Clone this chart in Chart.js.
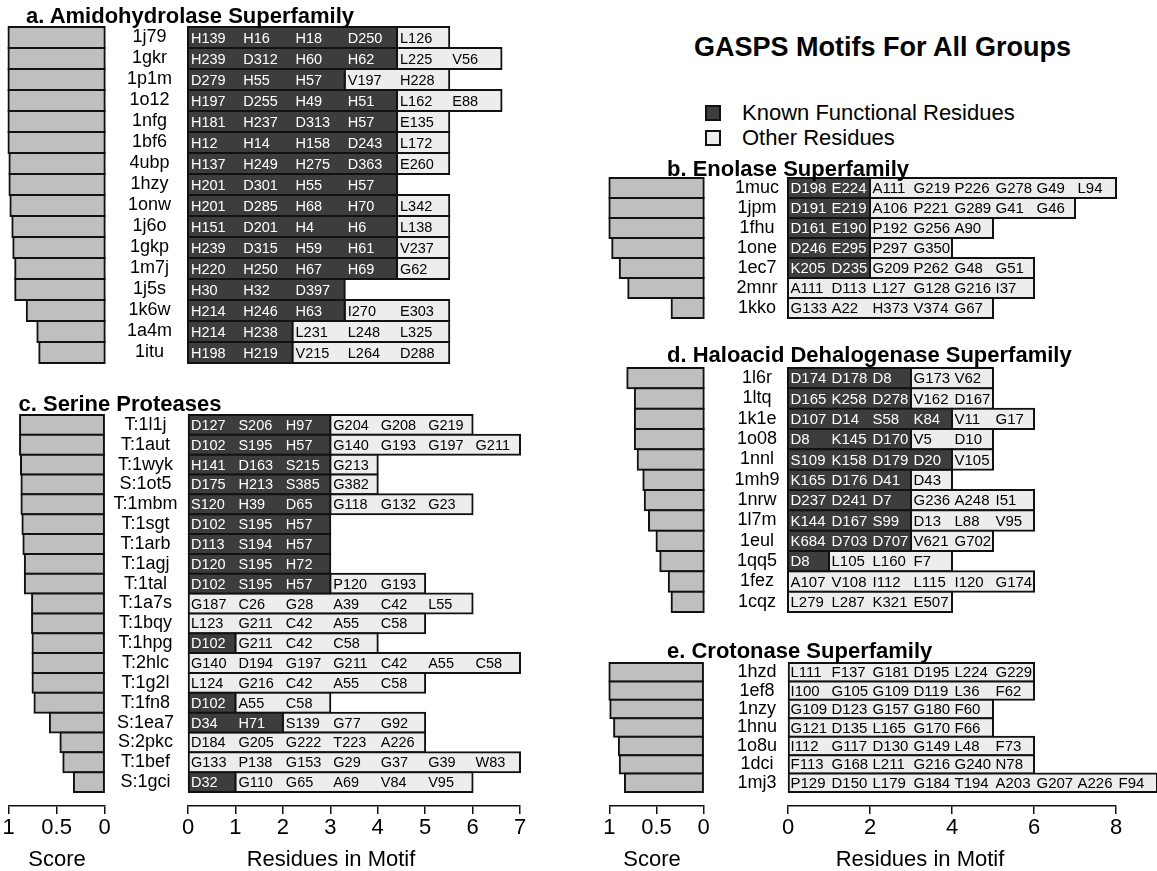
<!DOCTYPE html>
<html>
<head>
<meta charset="utf-8">
<script src="https://cdn.jsdelivr.net/npm/chart.js@4.4.0/dist/chart.umd.min.js"></script>
<style>
  body { margin: 0; background: #fff; width: 1157px; height: 871px; position: relative; overflow: hidden;
         font-family: "Liberation Sans", Arial, Helvetica, sans-serif; color: #000; }
  canvas { position: absolute; }
  .t { position: absolute; white-space: nowrap; line-height: 1; z-index: 1; }
  .title { font-weight: bold; font-size: 22px; }
  .big { font-weight: bold; font-size: 27px; }
  .lab { font-size: 22px; }
  .sq { position: absolute; width: 16px; height: 16px; box-sizing: border-box; border: 2px solid #111; }
</style>
</head>
<body>

<div class="t big" style="left:694px; top:34px;">GASPS Motifs For All Groups</div>

<div class="sq" style="left:705px; top:105px; background:#3d3d3d;"></div>
<div class="t lab" style="left:742px; top:102.4px;">Known Functional Residues</div>
<div class="sq" style="left:705px; top:130px; background:#ededed;"></div>
<div class="t lab" style="left:742px; top:127.4px;">Other Residues</div>

<div class="t title" style="left:26px; top:5px;">a. Amidohydrolase Superfamily</div>
<div class="t title" style="left:18.5px; top:393px;">c. Serine Proteases</div>
<div class="t title" style="left:667px; top:157.5px;">b. Enolase Superfamily</div>
<div class="t title" style="left:667px; top:344.4px;">d. Haloacid Dehalogenase Superfamily</div>
<div class="t title" style="left:667px; top:640.4px;">e. Crotonase Superfamily</div>

<div class="t lab" style="left:57px; top:848px; transform:translateX(-50%);">Score</div>
<div class="t lab" style="left:331px; top:848px; transform:translateX(-50%);">Residues in Motif</div>
<div class="t lab" style="left:652px; top:848px; transform:translateX(-50%);">Score</div>
<div class="t lab" style="left:920px; top:848px; transform:translateX(-50%);">Residues in Motif</div>

<script>
const FONT = '"Liberation Sans", Arial, Helvetica, sans-serif';
const DARK = '#3d3d3d';
const LIGHT = '#ededed';
const SCORE_FILL = '#bfbfbf';
const EDGE = '#111';
const AXIS_H = 36;

// a. Amidohydrolase Superfamily
const amidoLabels = ['1j79', '1gkr', '1p1m', '1o12', '1nfg', '1bf6', '4ubp', '1hzy',
                     '1onw', '1j6o', '1gkp', '1m7j', '1j5s', '1k6w', '1a4m', '1itu'];
const amidoScores = [1.0, 1.0, 1.0, 1.0, 1.0, 1.0, 0.99, 0.99, 0.98, 0.96, 0.95, 0.93, 0.93, 0.81, 0.70, 0.68];
const amidoKnown = [4, 4, 3, 4, 4, 4, 4, 4, 4, 4, 4, 4, 3, 3, 2, 2];
const amidoResidues = [
  ['H139', 'H16', 'H18', 'D250', 'L126'],
  ['H239', 'D312', 'H60', 'H62', 'L225', 'V56'],
  ['D279', 'H55', 'H57', 'V197', 'H228'],
  ['H197', 'D255', 'H49', 'H51', 'L162', 'E88'],
  ['H181', 'H237', 'D313', 'H57', 'E135'],
  ['H12', 'H14', 'H158', 'D243', 'L172'],
  ['H137', 'H249', 'H275', 'D363', 'E260'],
  ['H201', 'D301', 'H55', 'H57'],
  ['H201', 'D285', 'H68', 'H70', 'L342'],
  ['H151', 'D201', 'H4', 'H6', 'L138'],
  ['H239', 'D315', 'H59', 'H61', 'V237'],
  ['H220', 'H250', 'H67', 'H69', 'G62'],
  ['H30', 'H32', 'D397'],
  ['H214', 'H246', 'H63', 'I270', 'E303'],
  ['H214', 'H238', 'L231', 'L248', 'L325'],
  ['H198', 'H219', 'V215', 'L264', 'D288']
];

// c. Serine Proteases
const serineLabels = ['T:1l1j', 'T:1aut', 'T:1wyk', 'S:1ot5', 'T:1mbm', 'T:1sgt', 'T:1arb', 'T:1agj', 'T:1tal',
                      'T:1a7s', 'T:1bqy', 'T:1hpg', 'T:2hlc', 'T:1g2l', 'T:1fn8', 'S:1ea7', 'S:2pkc', 'T:1bef', 'S:1gci'];
const serineScores = [0.88, 0.88, 0.87, 0.865, 0.865, 0.855, 0.845, 0.83, 0.83,
                      0.755, 0.755, 0.75, 0.75, 0.75, 0.73, 0.57, 0.46, 0.43, 0.32];
const serineKnown = [3, 3, 3, 3, 3, 3, 3, 3, 3, 0, 0, 1, 0, 0, 1, 2, 0, 0, 1];
const serineResidues = [
  ['D127', 'S206', 'H97', 'G204', 'G208', 'G219'],
  ['D102', 'S195', 'H57', 'G140', 'G193', 'G197', 'G211'],
  ['H141', 'D163', 'S215', 'G213'],
  ['D175', 'H213', 'S385', 'G382'],
  ['S120', 'H39', 'D65', 'G118', 'G132', 'G23'],
  ['D102', 'S195', 'H57'],
  ['D113', 'S194', 'H57'],
  ['D120', 'S195', 'H72'],
  ['D102', 'S195', 'H57', 'P120', 'G193'],
  ['G187', 'C26', 'G28', 'A39', 'C42', 'L55'],
  ['L123', 'G211', 'C42', 'A55', 'C58'],
  ['D102', 'G211', 'C42', 'C58'],
  ['G140', 'D194', 'G197', 'G211', 'C42', 'A55', 'C58'],
  ['L124', 'G216', 'C42', 'A55', 'C58'],
  ['D102', 'A55', 'C58'],
  ['D34', 'H71', 'S139', 'G77', 'G92'],
  ['D184', 'G205', 'G222', 'T223', 'A226'],
  ['G133', 'P138', 'G153', 'G29', 'G37', 'G39', 'W83'],
  ['D32', 'G110', 'G65', 'A69', 'V84', 'V95']
];

// b. Enolase Superfamily
const enolaseLabels = ['1muc', '1jpm', '1fhu', '1one', '1ec7', '2mnr', '1kko'];
const enolaseScores = [1.0, 1.0, 1.0, 0.97, 0.89, 0.80, 0.34];
const enolaseKnown = [2, 2, 2, 2, 2, 0, 0];
const enolaseResidues = [
  ['D198', 'E224', 'A111', 'G219', 'P226', 'G278', 'G49', 'L94'],
  ['D191', 'E219', 'A106', 'P221', 'G289', 'G41', 'G46'],
  ['D161', 'E190', 'P192', 'G256', 'A90'],
  ['D246', 'E295', 'P297', 'G350'],
  ['K205', 'D235', 'G209', 'P262', 'G48', 'G51'],
  ['A111', 'D113', 'L127', 'G128', 'G216', 'I37'],
  ['G133', 'A22', 'H373', 'V374', 'G67']
];

// d. Haloacid Dehalogenase Superfamily
const hadLabels = ['1l6r', '1ltq', '1k1e', '1o08', '1nnl', '1mh9', '1nrw', '1l7m', '1eul', '1qq5', '1fez', '1cqz'];
const hadScores = [0.81, 0.73, 0.73, 0.73, 0.70, 0.64, 0.625, 0.58, 0.50, 0.46, 0.37, 0.34];
const hadKnown = [3, 3, 4, 3, 4, 3, 3, 3, 3, 1, 0, 0];
const hadResidues = [
  ['D174', 'D178', 'D8', 'G173', 'V62'],
  ['D165', 'K258', 'D278', 'V162', 'D167'],
  ['D107', 'D14', 'S58', 'K84', 'V11', 'G17'],
  ['D8', 'K145', 'D170', 'V5', 'D10'],
  ['S109', 'K158', 'D179', 'D20', 'V105'],
  ['K165', 'D176', 'D41', 'D43'],
  ['D237', 'D241', 'D7', 'G236', 'A248', 'I51'],
  ['K144', 'D167', 'S99', 'D13', 'L88', 'V95'],
  ['K684', 'D703', 'D707', 'V621', 'G702'],
  ['D8', 'L105', 'L160', 'F7'],
  ['A107', 'V108', 'I112', 'L115', 'I120', 'G174'],
  ['L279', 'L287', 'K321', 'E507']
];

// e. Crotonase Superfamily
const crotLabels = ['1hzd', '1ef8', '1nzy', '1hnu', '1o8u', '1dci', '1mj3'];
const crotScores = [1.0, 1.0, 0.99, 0.95, 0.90, 0.89, 0.835];
const crotKnown = [0, 0, 0, 0, 0, 0, 0];
const crotResidues = [
  ['L111', 'F137', 'G181', 'D195', 'L224', 'G229'],
  ['I100', 'G105', 'G109', 'D119', 'L36', 'F62'],
  ['G109', 'D123', 'G157', 'G180', 'F60'],
  ['G121', 'D135', 'L165', 'G170', 'F66'],
  ['I112', 'G117', 'D130', 'G149', 'L48', 'F73'],
  ['F113', 'G168', 'L211', 'G216', 'G240', 'N78'],
  ['P129', 'D150', 'L179', 'G184', 'T194', 'A203', 'G207', 'A226', 'F94']
];

// where each panel sits on the page
const LEFT_COL = {scoreLeft: 8.5, scoreRight: 104.7, resLeft: 188, colRight: 540, cellPad: 3, cellFont: 14.5};
const RIGHT_COL = {scoreLeft: 609.4, scoreRight: 703.7, resLeft: 788, resRight: 1116, resMax: 8,
                   labelX: 757, colRight: 1157, cellPad: 2.5, cellFont: 15, step: 2};

const panels = [
  Object.assign({labels: amidoLabels, scores: amidoScores, known: amidoKnown, residues: amidoResidues,
                 rowsTop: 27, rowsBottom: 363, resRight: 501.5, resMax: 6, labelX: 149.5}, LEFT_COL),
  Object.assign({labels: serineLabels, scores: serineScores, known: serineKnown, residues: serineResidues,
                 rowsTop: 415, rowsBottom: 792, axisY: 806, resRight: 520, resMax: 7, labelX: 145.5, step: 1}, LEFT_COL),
  Object.assign({labels: enolaseLabels, scores: enolaseScores, known: enolaseKnown, residues: enolaseResidues,
                 rowsTop: 178, rowsBottom: 318}, RIGHT_COL),
  Object.assign({labels: hadLabels, scores: hadScores, known: hadKnown, residues: hadResidues,
                 rowsTop: 368, rowsBottom: 612}, RIGHT_COL),
  Object.assign({labels: crotLabels, scores: crotScores, known: crotKnown, residues: crotResidues,
                 rowsTop: 663, rowsBottom: 792, axisY: 806}, RIGHT_COL)
];

// row names and residue names written into the bars
const cellText = {
  id: 'cellText',
  afterDatasetsDraw(chart, args, opts) {
    const {ctx, chartArea} = chart;
    const xs = chart.scales.x, ys = chart.scales.y;
    ctx.save();
    ctx.textBaseline = 'middle';
    ctx.textAlign = 'center';
    ctx.fillStyle = '#000';
    ctx.font = '18px ' + FONT;
    opts.labels.forEach((lab, i) => {
      ctx.fillText(lab, chartArea.left - opts.labelOffset, ys.getPixelForValue(i));
    });
    ctx.textAlign = 'left';
    ctx.font = opts.cellFont + 'px ' + FONT;
    opts.residues.forEach((row, i) => {
      const y = ys.getPixelForValue(i) + 1;
      row.forEach((name, j) => {
        ctx.fillStyle = j < opts.known[i] ? '#fff' : '#000';
        ctx.fillText(name, xs.getPixelForValue(j) + opts.cellPad, y);
      });
    });
    ctx.restore();
  }
};

function makeCanvas(left, top, right, bottom) {
  const w = Math.round(right - left), h = Math.round(bottom - top);
  const c = document.createElement('canvas');
  c.width = w;
  c.height = h;
  c.style.left = left + 'px';
  c.style.top = top + 'px';
  c.style.width = w + 'px';
  c.style.height = h + 'px';
  document.body.appendChild(c);
  return c;
}

function buildScales(p, xOpts) {
  const hasAxis = p.axisY !== undefined;
  const x = Object.assign({
    type: 'linear', position: 'bottom', display: hasAxis, weight: 1,
    border: {display: true, color: EDGE, width: 1.5},
    grid: {drawOnChartArea: false, drawTicks: true, tickLength: 8, color: EDGE, lineWidth: 1.5}
  }, xOpts);
  const scales = {x, y: {type: 'category', display: false, stacked: true}};
  if (hasAxis) {
    x.afterFit = s => { s.height = AXIS_H; };
    // empty band between the last bar and the axis line
    scales.gap = {
      type: 'linear', position: 'bottom', weight: 0, min: 0, max: 1, display: true,
      border: {display: false}, grid: {display: false}, ticks: {display: false},
      afterFit: s => { s.height = p.axisY - p.rowsBottom; }
    };
  }
  return scales;
}

function tickOpts(step) {
  return {stepSize: step, color: '#000', font: {family: FONT, size: 22}, padding: 1,
          autoSkip: false, maxRotation: 0, callback: v => String(v)};
}

function barStyle(fill) {
  return {
    backgroundColor: fill, borderColor: EDGE, borderWidth: 2, inflateAmount: 1,
    borderSkipped: false, barPercentage: 1, categoryPercentage: 1, clip: false, xAxisID: 'x'
  };
}

panels.forEach(p => {
  const hasAxis = p.axisY !== undefined;
  const top = Math.floor(p.rowsTop - 6);
  const bottom = hasAxis ? 871 : Math.ceil(p.rowsBottom + 6);
  const padBottom = hasAxis ? bottom - (p.axisY + AXIS_H) : bottom - p.rowsBottom;

  // score bars
  const sLeft = Math.floor(p.scoreLeft - 8.5);
  const sRight = Math.ceil(p.scoreRight + 12);
  new Chart(makeCanvas(sLeft, top, sRight, bottom), {
    type: 'bar',
    data: {
      labels: p.labels,
      datasets: [Object.assign({label: 'Score', data: p.scores}, barStyle(SCORE_FILL))]
    },
    options: {
      indexAxis: 'y', responsive: false, maintainAspectRatio: false, animation: false, devicePixelRatio: 1,
      layout: {padding: {left: p.scoreLeft - sLeft, right: sRight - p.scoreRight, top: p.rowsTop - top, bottom: padBottom}},
      plugins: {legend: {display: false}, tooltip: {enabled: false}},
      scales: buildScales(p, {min: 0, max: 1, reverse: true, ticks: tickOpts(0.5)})
    }
  });

  // residue bars: known functional residues, then the other residues
  const rLeft = Math.floor(p.labelX - 45);
  const rRight = p.colRight;
  new Chart(makeCanvas(rLeft, top, rRight, bottom), {
    type: 'bar',
    data: {
      labels: p.labels,
      datasets: [
        Object.assign({label: 'Known Functional Residues', data: p.known.map(k => k || null)}, barStyle(DARK)),
        Object.assign({label: 'Other Residues', data: p.residues.map((r, i) => (r.length - p.known[i]) || null)}, barStyle(LIGHT))
      ]
    },
    options: {
      indexAxis: 'y', responsive: false, maintainAspectRatio: false, animation: false, devicePixelRatio: 1,
      layout: {padding: {left: p.resLeft - rLeft, right: rRight - p.resRight, top: p.rowsTop - top, bottom: padBottom}},
      plugins: {
        legend: {display: false}, tooltip: {enabled: false},
        cellText: {labels: p.labels, residues: p.residues, known: p.known,
                   labelOffset: p.resLeft - p.labelX, cellPad: p.cellPad, cellFont: p.cellFont}
      },
      scales: buildScales(p, {min: 0, max: p.resMax, stacked: true, ticks: tickOpts(p.step || 1)})
    },
    plugins: [cellText]
  });
});
</script>
</body>
</html>
